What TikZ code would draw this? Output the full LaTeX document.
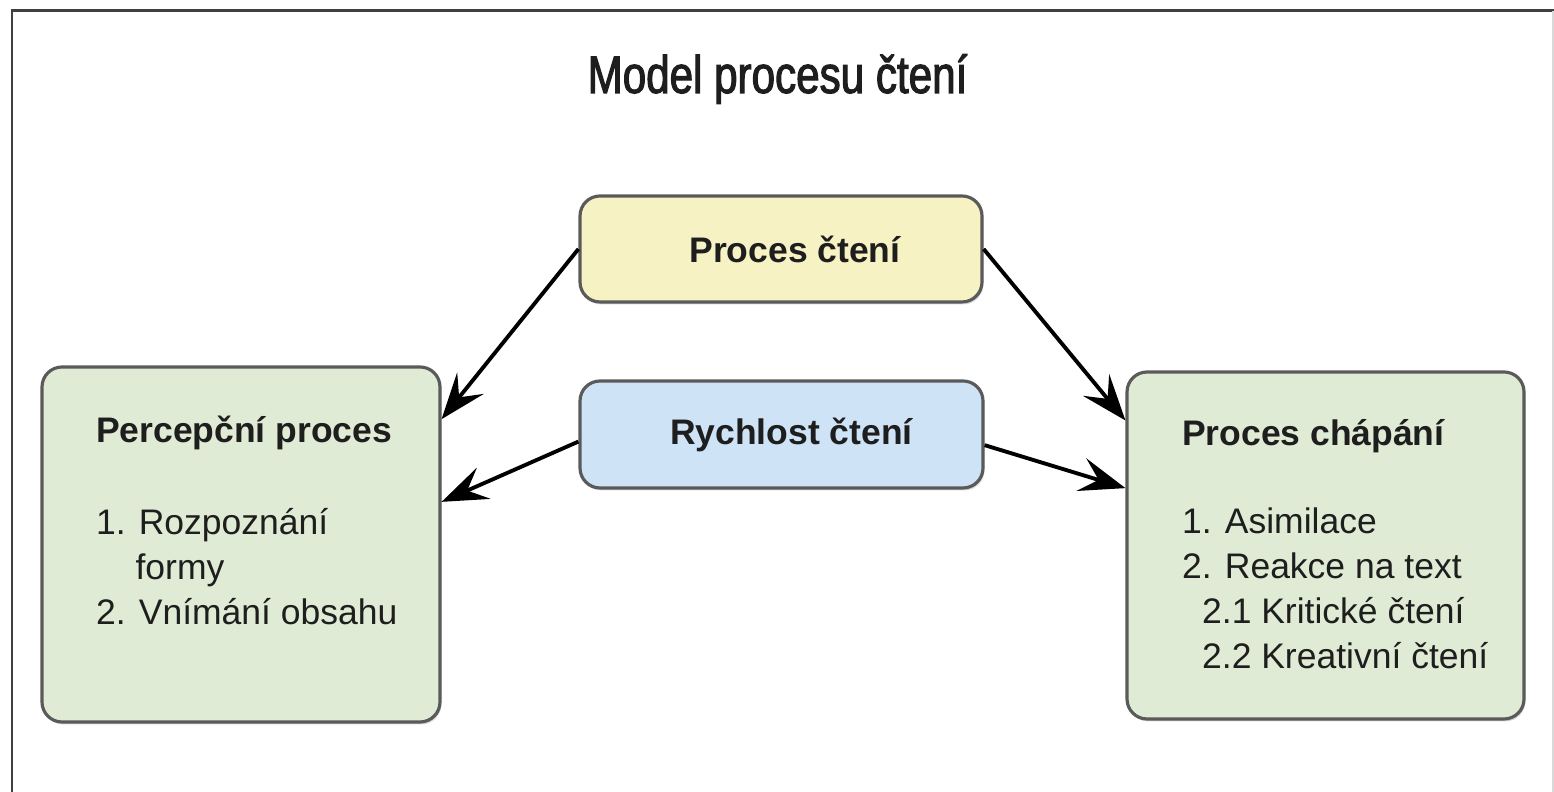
\documentclass[tikz,border=0pt]{standalone}
\usepackage{fontspec}
\setmainfont{Liberation Sans}
\newfontfamily\titlefont[FakeStretch=0.8,FakeBold=2]{Liberation Sans}
\usetikzlibrary{arrows.meta,shadows}
\definecolor{boxyellow}{RGB}{246,242,196}
\definecolor{boxblue}{RGB}{206,227,246}
\definecolor{boxgreen}{RGB}{223,235,212}
\definecolor{boxline}{RGB}{90,90,90}
\definecolor{inktext}{RGB}{30,30,30}

\begin{document}
\begin{tikzpicture}[
        box/.style={draw=boxline, line width=0.9pt, rounded corners=0.2cm, inner sep=0pt,
            font=\fontsize{10.1}{12.8}\selectfont\bfseries, text=inktext,
            drop shadow={shadow xshift=0.4pt, shadow yshift=-0.7pt, opacity=0.3}},
        listtext/.style={anchor=north west, inner sep=0pt, align=left, text=inktext,
            font=\fontsize{10.1}{12.8}\selectfont},
        link/.style={line width=1.1pt, -{Stealth[length=4.6mm, width=3.4mm, inset=1.8mm]}}
    ]
            \useasboundingbox (0,0) rectangle (15.54,7.92);
            \draw[line width=0.85pt, draw=black!75] (0.12,0) -- (0.12,7.81) -- (15.54,7.81);
            \draw[line width=0.6pt, draw=black!15] (15.53,0) -- (15.53,7.81);
            \node[anchor=base, text=inktext, font=\titlefont\fontsize{15}{18}\selectfont] (title) at (7.775,6.99) {Model procesu čtení};

            % horni bloky
            \node[box, fill=boxyellow, minimum width=4.02cm, minimum height=1.06cm] (proces) at (7.81,5.43) {\hspace*{0.28cm}Proces čtení};
            \node[box, fill=boxblue, minimum width=4.03cm, minimum height=1.07cm] (rychlost) at (7.815,3.575) {\hspace*{0.2cm}Rychlost čtení};

            % bocni bloky
            \node[box, fill=boxgreen, minimum width=3.98cm, minimum height=3.55cm] (percepce) at (2.41,2.475) {};
            \node[box, fill=boxgreen, minimum width=3.97cm, minimum height=3.47cm] (chapani) at (13.255,2.465) {};
            \node[listtext] (percepcetext) at ([shift={(0.55,-0.5)}]percepce.north west)
                {\textbf{Percepční proces}\\[0.47cm]
                 1. Rozpoznání\\
                 \phantom{1.}\ formy\\
                 2. Vnímání obsahu};
            \node[listtext] (chapanitext) at ([shift={(0.56,-0.48)}]chapani.north west)
                {\textbf{Proces chápání}\\[0.43cm]
                 1. Asimilace\\
                 2. Reakce na text\\
                 \hspace*{0.2cm}2.1 Kritické čtení\\
                 \hspace*{0.2cm}2.2 Kreativní čtení};

            % sipky
            \draw[link] (proces.west) -- (percepce.32);
            \draw[link] (rychlost.182) -- (percepce.12.6);
            \draw[link] (proces.east) -- (chapani.148.7);
            \draw[link] (rychlost.-3.5) -- (chapani.164.4);
        \end{tikzpicture}
\end{document}
